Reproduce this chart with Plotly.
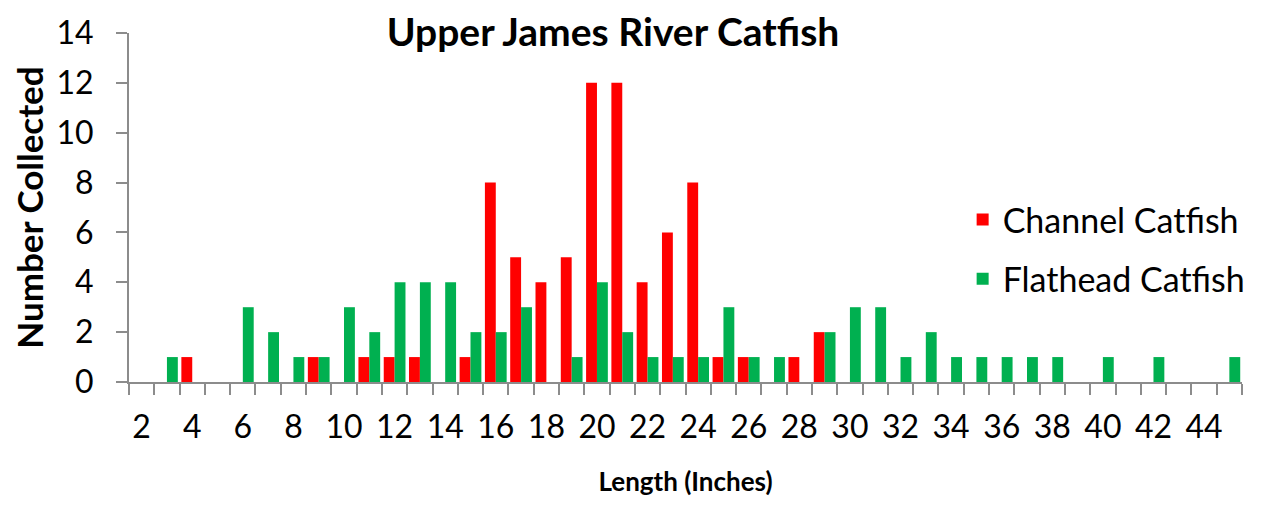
import plotly.graph_objects as go

lengths = list(range(2, 46))

channel_counts = {4: 1, 9: 1, 11: 1, 12: 1, 13: 1, 15: 1, 16: 8, 17: 5, 18: 4, 19: 5,
                  20: 12, 21: 12, 22: 4, 23: 6, 24: 8, 25: 1, 26: 1, 28: 1, 29: 2}
flathead_counts = {3: 1, 6: 3, 7: 2, 8: 1, 9: 1, 10: 3, 11: 2, 12: 4, 13: 4, 14: 4,
                   15: 2, 16: 2, 17: 3, 19: 1, 20: 4, 21: 2, 22: 1, 23: 1, 24: 1, 25: 3,
                   26: 1, 27: 1, 29: 2, 30: 3, 31: 3, 32: 1, 33: 2, 34: 1, 35: 1, 36: 1,
                   37: 1, 38: 1, 40: 1, 42: 1, 45: 1}

channel = [channel_counts.get(n, 0) for n in lengths]
flathead = [flathead_counts.get(n, 0) for n in lengths]

x_tick_labels = list(range(2, 46, 2))
y_ticks = list(range(0, 15, 2))

FONT = "Lato"
AXIS_GREY = "#8c8c8c"
# page body has an 8px default margin, so the figure is a bit smaller than the window
W, H = 1254, 508

fig = go.Figure()
fig.add_trace(go.Bar(x=lengths, y=channel, name="Channel Catfish",
                     marker=dict(color="#ff0000", line=dict(width=0)),
                     legendgroup="a"))
fig.add_trace(go.Bar(x=lengths, y=flathead, name="Flathead Catfish",
                     marker=dict(color="#00b050", line=dict(width=0)),
                     legendgroup="b"))

fig.update_layout(
    width=W,
    height=H,
    barmode="group",
    bargap=0.14,
    bargroupgap=0,
    plot_bgcolor="white",
    paper_bgcolor="white",
    margin=dict(l=121, r=20, t=25, b=134, autoexpand=False),
    font=dict(family=FONT, color="black"),
    title=dict(text="Upper James River Catfish", font=dict(size=39, weight="bold"),
               x=605 / W, xanchor="center", xref="container",
               y=1 - 24 / H, yanchor="middle", yref="container"),
    legend=dict(x=0.749, y=0.38, xanchor="left", yanchor="middle",
                font=dict(size=34), tracegroupgap=12, bgcolor="rgba(0,0,0,0)"),
)

fig.update_xaxes(
    range=[1.5, 45.5],
    automargin=False,
    tickmode="array",
    tickvals=x_tick_labels,
    ticks="",
    ticklabelstandoff=16,
    tickfont=dict(size=32),
    showgrid=False,
    zeroline=False,
    showline=True,
    linecolor=AXIS_GREY,
    linewidth=2,
    minor=dict(tickmode="linear", tick0=1.5, dtick=1, ticks="outside",
               ticklen=11, tickwidth=2, tickcolor=AXIS_GREY, showgrid=False),
    title=dict(text="Length (Inches)", font=dict(size=26, weight="bold"), standoff=28),
)

fig.update_yaxes(
    range=[0, 14],
    automargin=False,
    tickmode="array",
    tickvals=y_ticks,
    ticks="outside",
    ticklen=11,
    tickwidth=2,
    tickcolor=AXIS_GREY,
    ticklabelstandoff=16,
    tickfont=dict(size=32),
    showgrid=False,
    zeroline=False,
    showline=True,
    linecolor=AXIS_GREY,
    linewidth=2,
    title=dict(text="Number Collected", font=dict(size=35, weight="bold"), standoff=20),
)

fig.write_html("out.html")
